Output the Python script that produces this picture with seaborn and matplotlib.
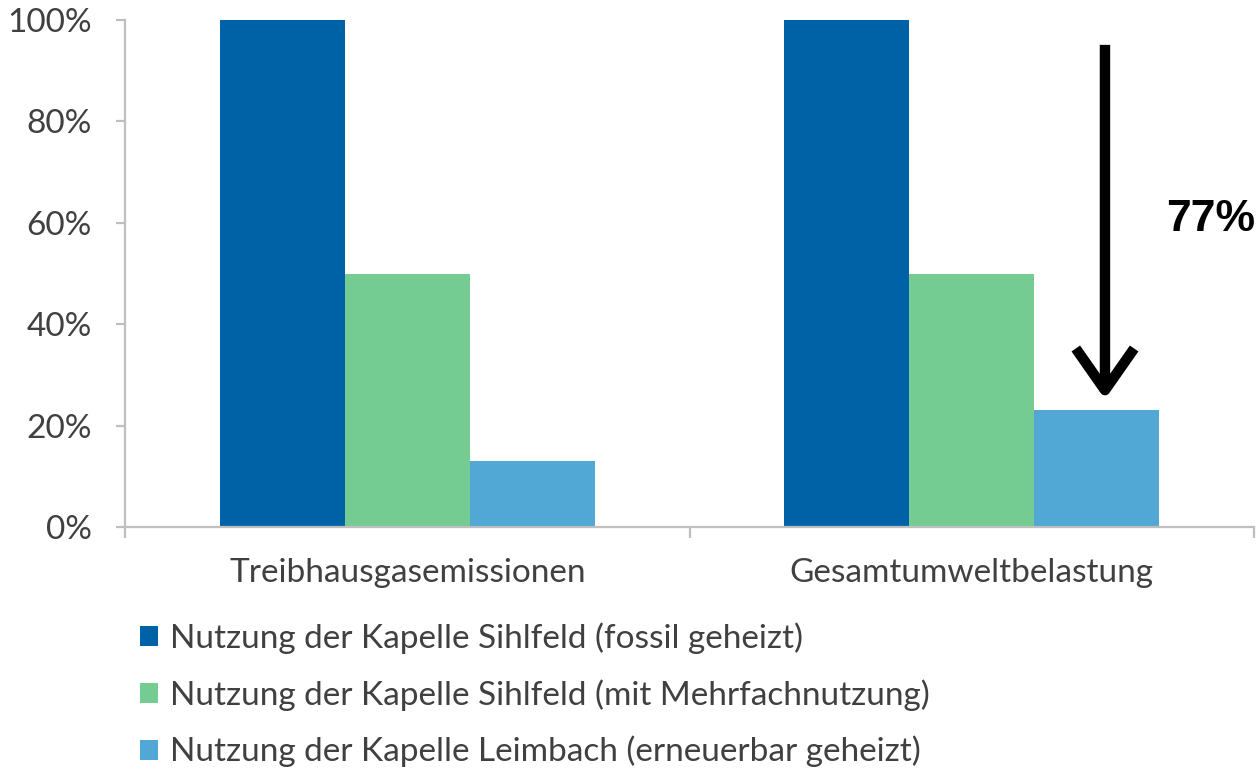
import matplotlib
matplotlib.use("Agg")
import matplotlib.pyplot as plt
from matplotlib.ticker import PercentFormatter, FixedLocator
from matplotlib.patches import Patch
import seaborn as sns
import pandas as pd

# Relative environmental impact per usage scenario (share of fossil baseline)
categories = ["Treibhausgasemissionen", "Gesamtumweltbelastung"]
series = [
    "Nutzung der Kapelle Sihlfeld (fossil geheizt)",
    "Nutzung der Kapelle Sihlfeld (mit Mehrfachnutzung)",
    "Nutzung der Kapelle Leimbach (erneuerbar geheizt)",
]
fossil = [1.00, 1.00]
mehrfach = [0.50, 0.50]
leimbach = [0.13, 0.23]
reduction_label = "77%"
colors = ["#0062A6", "#74CC93", "#52A8D4"]

rows = []
for name, vals in zip(series, [fossil, mehrfach, leimbach]):
    for cat, v in zip(categories, vals):
        rows.append({"Kategorie": cat, "Szenario": name, "Anteil": v})
df = pd.DataFrame(rows)

sns.set_theme(style="white")
plt.rcParams["font.family"] = ["Lato", "DejaVu Sans"]

text_color = "#404040"
axis_color = "#BFBFBF"
fs = 24

fig = plt.figure(figsize=(12.56, 7.75), dpi=100)
ax = fig.add_axes([125 / 1256, (775 - 527) / 775, (1254 - 125) / 1256, (527 - 20) / 775])

sns.barplot(data=df, x="Kategorie", y="Anteil", hue="Szenario", order=categories,
            hue_order=series, palette=colors, width=0.665, saturation=1,
            errorbar=None, ax=ax, legend=False, linewidth=0)

ax.set_xlim(-0.5, 1.5)
ax.set_ylim(0, 1)
ax.set_xlabel("")
ax.set_ylabel("")

for side in ["top", "right"]:
    ax.spines[side].set_visible(False)
for side in ["left", "bottom"]:
    ax.spines[side].set_color(axis_color)
    ax.spines[side].set_linewidth(1.6)

ax.yaxis.set_major_locator(FixedLocator([0, 0.2, 0.4, 0.6, 0.8, 1.0]))
ax.yaxis.set_major_formatter(PercentFormatter(1.0, decimals=0))
ax.tick_params(axis="y", left=True, length=6.5, width=1.6, color=axis_color,
               pad=17.5, labelsize=fs, labelcolor=text_color)

ax.set_xticks([0, 1])
ax.set_xticklabels(categories)
ax.set_xticks([-0.5, 0.5, 1.5], minor=True)
ax.tick_params(axis="x", which="major", bottom=False, length=0, pad=22,
               labelsize=fs, labelcolor=text_color)
ax.tick_params(axis="x", which="minor", bottom=True, length=8, width=1.6, color=axis_color)

# Reduction arrow and label
ax.annotate("", xy=(1.236, 0.252), xytext=(1.236, 0.951),
            arrowprops=dict(arrowstyle="->,head_length=2.5,head_width=1.75",
                            lw=7.5, color="black", shrinkA=0, shrinkB=0,
                            capstyle="butt", joinstyle="round"),
            annotation_clip=False)
ax.text(1.345, 0.607, reduction_label, ha="left", va="center", fontsize=32,
        fontweight="bold", color="black", family=["Liberation Sans", "DejaVu Sans"],
        clip_on=False)

handles = [Patch(facecolor=c, edgecolor="none") for c in colors]
fig.legend(handles, series, loc="upper left", bbox_to_anchor=(140 / 1256, 1 - 622 / 775),
           frameon=False, fontsize=fs, labelcolor=text_color, handlelength=0.54,
           handleheight=0.54, handletextpad=0.36, labelspacing=0.76, borderpad=0,
           borderaxespad=0)

fig.savefig("out.png", dpi=100, facecolor="white")
